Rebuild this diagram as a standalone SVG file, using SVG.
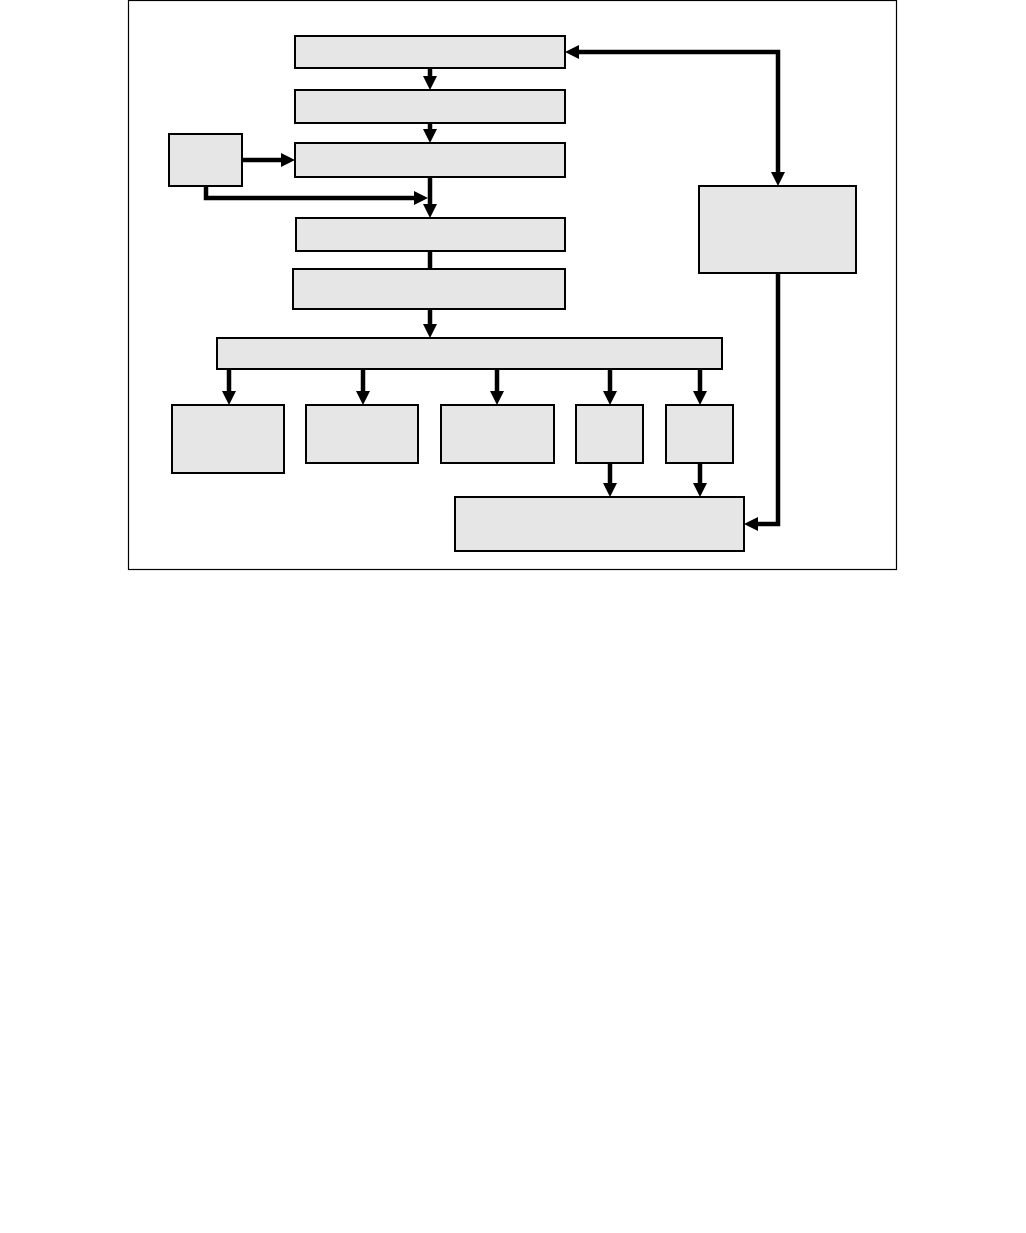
<svg xmlns="http://www.w3.org/2000/svg" width="1026" height="1233" viewBox="0 0 1026 1233">
<style>
.node{fill:#e6e6e6;stroke:#000;stroke-width:2}
.frame{fill:#fff;stroke:#000;stroke-width:1.2}
.c{fill:none;stroke:#000;stroke-width:4.5;stroke-linejoin:miter}
.a{marker-end:url(#ah)}
</style>
<defs>
<marker id="ah" markerUnits="userSpaceOnUse" markerWidth="16" markerHeight="16" refX="0" refY="7" orient="auto-start-reverse" overflow="visible">
<path d="M0,0 L14,7 L0,14 z" fill="#000"/>
</marker>
</defs>
<rect width="1026" height="1233" fill="#fff"/>
<rect class="frame" x="128.5" y="0.5" width="768" height="569"/>
<g id="connectors">
<line class="c a" x1="430" y1="68" x2="430" y2="76"/>
<line class="c a" x1="430" y1="123" x2="430" y2="129"/>
<line class="c a" x1="242" y1="160" x2="281" y2="160"/>
<path class="c a" d="M206,186 V198 H414"/>
<line class="c a" x1="430" y1="177" x2="430" y2="204"/>
<line class="c" x1="430" y1="251" x2="430" y2="269"/>
<line class="c a" x1="430" y1="309" x2="430" y2="324"/>
<line class="c a" x1="229" y1="369" x2="229" y2="391"/>
<line class="c a" x1="363" y1="369" x2="363" y2="391"/>
<line class="c a" x1="497" y1="369" x2="497" y2="391"/>
<line class="c a" x1="610" y1="369" x2="610" y2="391"/>
<line class="c a" x1="700" y1="369" x2="700" y2="391"/>
<line class="c a" x1="610" y1="463" x2="610" y2="483"/>
<line class="c a" x1="700" y1="463" x2="700" y2="483"/>
<path class="c a" style="marker-start:url(#ah)" d="M778,172 V52 H579"/>
<path class="c a" d="M778,273 V524 H758"/>
</g>
<g id="n1"><rect class="node" x="295" y="36" width="270" height="32"/></g>
<g id="n2"><rect class="node" x="295" y="90" width="270" height="33"/></g>
<g id="n3"><rect class="node" x="295" y="143" width="270" height="34"/></g>
<g id="n4"><rect class="node" x="169" y="134" width="73" height="52"/></g>
<g id="n5"><rect class="node" x="296" y="218" width="269" height="33"/></g>
<g id="n6"><rect class="node" x="293" y="269" width="272" height="40"/></g>
<g id="n7"><rect class="node" x="217" y="338" width="505" height="31"/></g>
<g id="n8"><rect class="node" x="699" y="186" width="157" height="87"/></g>
<g id="n9"><rect class="node" x="172" y="405" width="112" height="68"/></g>
<g id="n10"><rect class="node" x="306" y="405" width="112" height="58"/></g>
<g id="n11"><rect class="node" x="441" y="405" width="113" height="58"/></g>
<g id="n12"><rect class="node" x="576" y="405" width="67" height="58"/></g>
<g id="n13"><rect class="node" x="666" y="405" width="67" height="58"/></g>
<g id="n14"><rect class="node" x="455" y="497" width="289" height="54"/></g>
</svg>
